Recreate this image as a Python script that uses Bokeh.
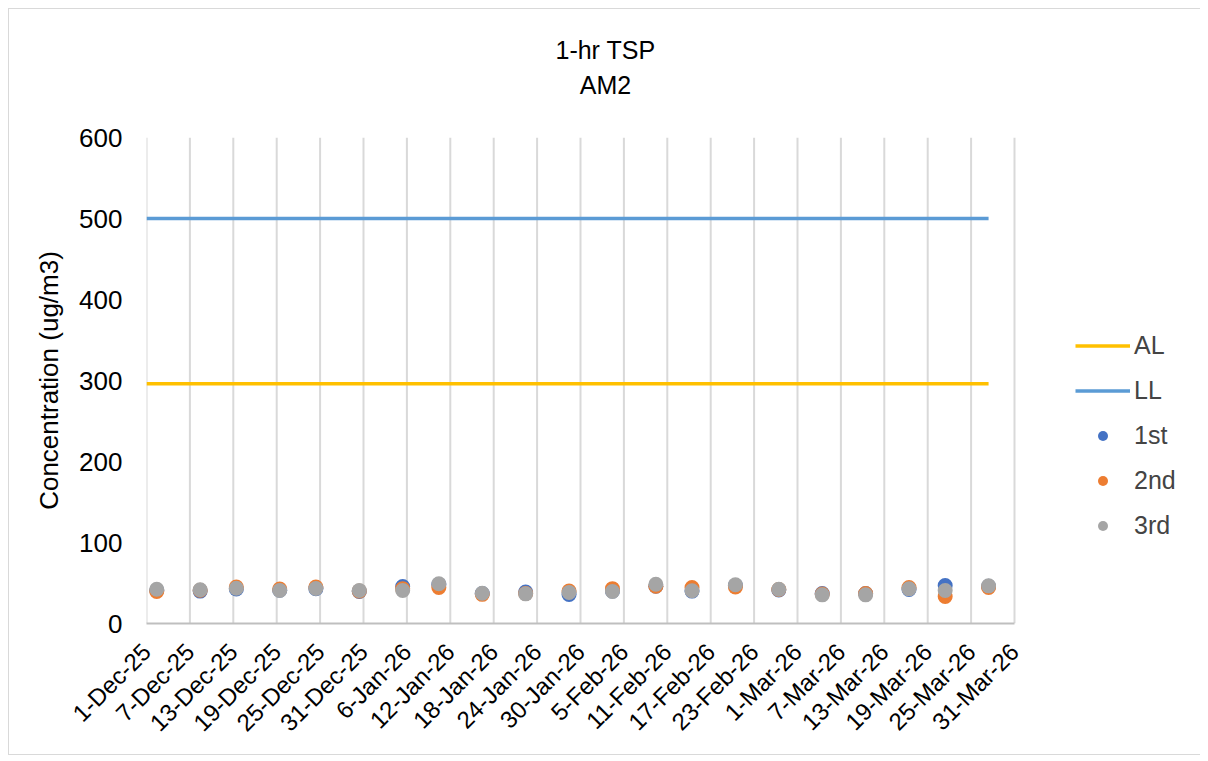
import pandas as pd
from bokeh.plotting import figure
from bokeh.layouts import column
from bokeh.models import FixedTicker, Legend, LegendItem, Label, Range1d
from bokeh.embed import file_html
from bokeh.resources import INLINE

# ---- data ----
sample_times = ["2025-12-02 10:00", "2025-12-08 10:00", "2025-12-13 10:00", "2025-12-19 10:00",
                "2025-12-24 10:00", "2025-12-30 10:00", "2026-01-05 10:00", "2026-01-10 10:00",
                "2026-01-16 10:00", "2026-01-22 10:00", "2026-01-28 10:00", "2026-02-03 10:00",
                "2026-02-09 10:00", "2026-02-14 10:00", "2026-02-20 10:00", "2026-02-26 10:00",
                "2026-03-04 10:00", "2026-03-10 10:00", "2026-03-16 10:00", "2026-03-21 10:00",
                "2026-03-27 10:00"]
first = [41.0, 40.0, 42.6, 41.0, 43.0, 39.5, 45.7, 48.0, 37.0, 38.9, 35.8, 40.0,
         46.0, 40.0, 47.0, 41.4, 37.0, 37.0, 42.0, 46.9, 46.0]
second = [39.5, 41.0, 45.0, 42.6, 45.0, 40.0, 43.0, 44.4, 36.0, 37.0, 40.0, 43.0,
          46.0, 44.4, 45.0, 42.0, 36.4, 37.0, 44.4, 33.3, 44.4]
third = [42.3, 41.6, 43.6, 40.7, 43.2, 40.7, 40.7, 49.0, 37.4, 36.6, 38.3, 39.5,
         48.5, 40.4, 47.8, 42.3, 35.4, 35.4, 42.8, 40.7, 46.5]
limit_times = ["2025-12-01 00:00", "2026-03-27 10:00"]
action_level = [296, 296]
limit_level = [500, 500]
tick_labels = ["1-Dec-25", "7-Dec-25", "13-Dec-25", "19-Dec-25", "25-Dec-25", "31-Dec-25",
               "6-Jan-26", "12-Jan-26", "18-Jan-26", "24-Jan-26", "30-Jan-26", "5-Feb-26",
               "11-Feb-26", "17-Feb-26", "23-Feb-26", "1-Mar-26", "7-Mar-26", "13-Mar-26",
               "19-Mar-26", "25-Mar-26", "31-Mar-26"]
y_ticks = [0, 100, 200, 300, 400, 500, 600]
title_lines = ["1-hr TSP", "AM2"]

FONT = "Liberation Sans"
DAY = 86400000.0

def to_ms(strs):
    return [pd.Timestamp(s).value / 1e6 for s in strs]

x_pts = to_ms(sample_times)
x_lim = to_ms(limit_times)
tick_ms = [pd.to_datetime(t, format="%d-%b-%y").value / 1e6 for t in tick_labels]

# geometry
W = 1192
TITLE_H = 108
MAIN_H = 637
LEFT, RIGHT, TOP, BOTTOM = 137, 8, 20, 131
frame_w = W - LEFT - RIGHT
px_per_day = 868.0 / 120.0          # date axis: 868 px for 1-Dec-25 .. 31-Mar-26
x_range = Range1d(tick_ms[0], tick_ms[0] + frame_w / px_per_day * DAY)  # runs on to hold legend
title_x = tick_ms[0] + (596 - LEFT) / px_per_day * DAY

# ---- title strip (shares the chart's horizontal scale) ----
t = figure(width=W, height=TITLE_H, output_backend="svg", toolbar_location=None,
           x_range=x_range, y_range=Range1d(0, TITLE_H),
           x_axis_location=None, y_axis_location=None,
           min_border_left=LEFT, min_border_right=RIGHT, min_border_top=0, min_border_bottom=0)
t.outline_line_color = None
t.grid.grid_line_color = None
for txt, yv in zip(title_lines, [68, 33]):
    t.add_layout(Label(x=title_x, y=yv, text=txt, text_align="center", text_baseline="middle",
                       text_font=FONT, text_font_size="25px", text_color="black"))

# ---- main chart ----
p = figure(width=W, height=MAIN_H, output_backend="svg", toolbar_location=None,
           x_axis_type="datetime",
           x_range=x_range, y_range=Range1d(y_ticks[0], y_ticks[-1]),
           min_border_left=LEFT, min_border_right=RIGHT, min_border_top=TOP,
           min_border_bottom=BOTTOM)
p.outline_line_color = None
p.border_fill_color = "white"
p.background_fill_color = "white"

p.xaxis.ticker = FixedTicker(ticks=tick_ms)
p.xaxis.bounds = (tick_ms[0], tick_ms[-1])
p.xaxis.major_label_overrides = {tk: lab for tk, lab in zip(tick_ms, tick_labels)}
p.xaxis.major_label_orientation = 0.785398
p.xaxis.major_label_text_font = FONT
p.xaxis.major_label_text_font_size = "24px"
p.xaxis.major_label_text_color = "black"
p.xaxis.major_tick_line_color = None
p.xaxis.minor_tick_line_color = None
p.xaxis.axis_line_color = "#bfbfbf"
p.xaxis.axis_line_width = 2
p.xaxis.major_label_standoff = 18

p.yaxis.ticker = FixedTicker(ticks=y_ticks)
p.yaxis.major_label_text_font = FONT
p.yaxis.major_label_text_font_size = "26px"
p.yaxis.major_label_text_color = "black"
p.yaxis.major_tick_line_color = None
p.yaxis.minor_tick_line_color = None
p.yaxis.axis_line_color = None
p.yaxis.major_label_standoff = 18
p.yaxis.axis_label = "Concentration (ug/m3)"
p.yaxis.axis_label_text_font = FONT
p.yaxis.axis_label_text_font_size = "26px"
p.yaxis.axis_label_text_font_style = "normal"
p.yaxis.axis_label_text_color = "black"
p.yaxis.axis_label_standoff = 12

p.grid.grid_line_color = None
p.segment(x0=tick_ms, y0=[y_ticks[0]] * len(tick_ms), x1=tick_ms, y1=[y_ticks[-1]] * len(tick_ms),
          line_color="#d9d9d9", line_width=2)

r_al = p.line(x_lim, action_level, line_color="#FFC000", line_width=3.5)
r_ll = p.line(x_lim, limit_level, line_color="#5B9BD5", line_width=3.5)
r1 = p.scatter(x_pts, first, size=15, fill_color="#4472C4", line_color=None)
r2 = p.scatter(x_pts, second, size=15, fill_color="#ED7D31", line_color=None)
r3 = p.scatter(x_pts, third, size=15, fill_color="#A5A5A5", line_color=None)

legend = Legend(items=[LegendItem(label="AL", renderers=[r_al]),
                       LegendItem(label="LL", renderers=[r_ll]),
                       LegendItem(label="1st", renderers=[r1]),
                       LegendItem(label="2nd", renderers=[r2]),
                       LegendItem(label="3rd", renderers=[r3])],
                location=(929, 83), orientation="vertical",
                border_line_color=None, background_fill_alpha=0,
                label_text_font=FONT, label_text_font_size="25px",
                glyph_width=55, glyph_height=25, label_height=25, spacing=16,
                label_standoff=4, padding=5, margin=0)
p.add_layout(legend)

layout = column(t, p, spacing=0)
layout.styles = {"border": "1px solid #d9d9d9"}

html = file_html(layout, INLINE)
html = html.replace("<body>", '<body style="margin:8px;">')
open("out.html", "w").write(html)
